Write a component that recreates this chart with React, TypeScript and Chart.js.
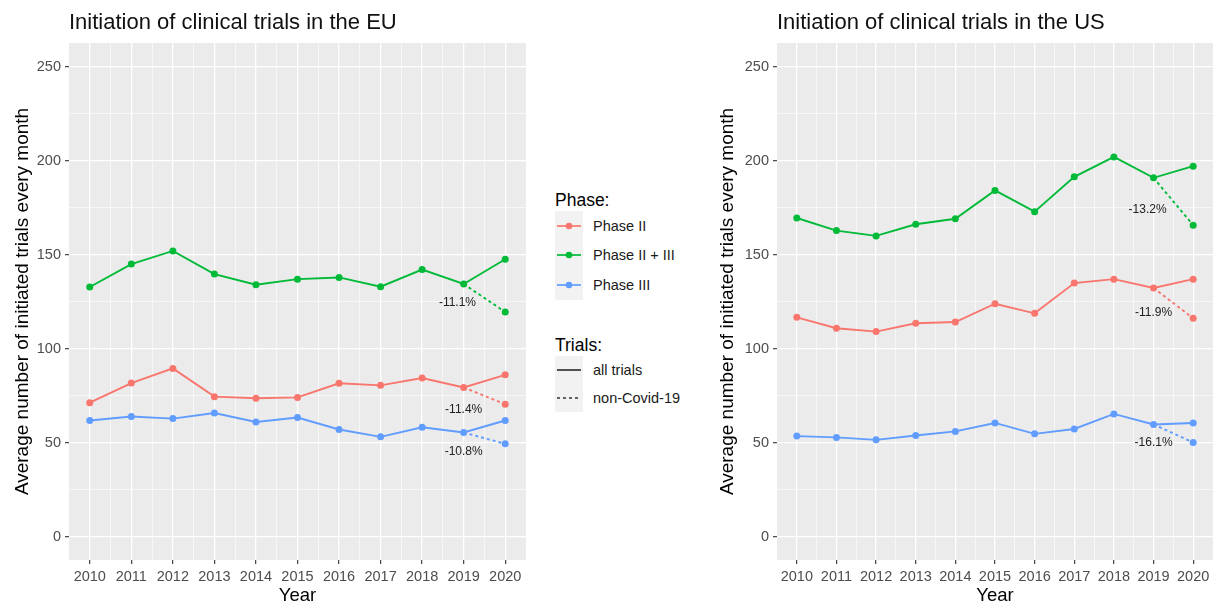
import React, { useEffect, useRef } from "react";
import { Chart, registerables } from "chart.js";

Chart.register(...registerables);

// ---------- data ----------
const years = [2010, 2011, 2012, 2013, 2014, 2015, 2016, 2017, 2018, 2019, 2020];
const seriesNames = ["Phase II", "Phase II + III", "Phase III"];

const euPhase2 = [71.2, 81.6, 89.4, 74.4, 73.5, 74.0, 81.5, 80.4, 84.3, 79.3, 86.0];
const euPhase23 = [132.7, 144.9, 151.9, 139.6, 133.9, 136.9, 137.8, 132.9, 142.0, 134.3, 147.5];
const euPhase3 = [61.7, 63.8, 62.7, 65.7, 60.9, 63.3, 56.9, 53.0, 58.1, 55.3, 61.7];
const euNonCovid2020 = [70.3, 119.4, 49.3];
const euChangeLabels = ["-11.4%", "-11.1%", "-10.8%"];
const euLabelX = [2019.0, 2018.85, 2019.0];
const euLabelY = [67.7, 124.4, 45.0];

const usPhase2 = [116.6, 110.8, 109.0, 113.4, 114.1, 123.8, 118.7, 134.8, 136.9, 132.2, 136.9];
const usPhase23 = [169.4, 162.7, 159.9, 166.1, 169.0, 184.1, 172.8, 191.3, 201.9, 190.8, 197.0];
const usPhase3 = [53.4, 52.7, 51.4, 53.7, 55.9, 60.4, 54.6, 57.2, 65.2, 59.6, 60.4];
const usNonCovid2020 = [116.1, 165.6, 50.0];
const usChangeLabels = ["-11.9%", "-13.2%", "-16.1%"];
const usLabelX = [2019.0, 2018.85, 2019.0];
const usLabelY = [119.2, 174.0, 50.0];

const yMajorTicks = [0, 50, 100, 150, 200, 250];
const yMinorTicks = [25, 75, 125, 175, 225];
const xMinorTicks = [2010.5, 2011.5, 2012.5, 2013.5, 2014.5, 2015.5, 2016.5, 2017.5, 2018.5, 2019.5];

const trialTypes = ["all trials", "non-Covid-19"];

// ---------- styles ----------
const COLORS = ["#F8766D", "#00BA38", "#619CFF"];
const FONT = "'Liberation Sans', Arial, Helvetica, sans-serif";

type PanelProps = {
  title: string;
  series: number[][];
  nonCovid: number[];
  labels: string[];
  labelX: number[];
  labelY: number[];
  width: number;
  axisWidth: number;
  yTitlePad: number;
  padRight: number;
};

function Panel(p: PanelProps) {
  const ref = useRef<HTMLCanvasElement | null>(null);
  useEffect(() => {
    if (!ref.current) return;
    const datasets: any[] = [];
    p.series.forEach((vals, i) => {
      datasets.push({
        label: seriesNames[i] + " non-Covid-19",
        data: [
          { x: years[years.length - 2], y: vals[vals.length - 2] },
          { x: years[years.length - 1], y: p.nonCovid[i] },
        ],
        borderColor: COLORS[i],
        backgroundColor: COLORS[i],
        borderWidth: 1.9,
        borderDash: [3, 3],
        pointRadius: [0, 3.5],
        pointBorderWidth: 0,
        tension: 0,
      });
    });
    p.series.forEach((vals, i) => {
      datasets.push({
        label: seriesNames[i],
        data: years.map((x, j) => ({ x, y: vals[j] })),
        borderColor: COLORS[i],
        backgroundColor: COLORS[i],
        borderWidth: 1.9,
        pointRadius: 3.5,
        pointBorderWidth: 0,
        tension: 0,
      });
    });

    const isInt = (ctx: any) => ctx.tick && Number.isInteger(ctx.tick.value);
    const isMajorY = (ctx: any) => ctx.tick && ctx.tick.value % 50 === 0;

    const bgPlugin = {
      id: "panelBg",
      beforeDraw(chart: any) {
        const { ctx, chartArea } = chart;
        ctx.save();
        ctx.fillStyle = "#EBEBEB";
        ctx.fillRect(chartArea.left, chartArea.top, chartArea.right - chartArea.left, chartArea.bottom - chartArea.top);
        ctx.restore();
      },
      afterDraw(chart: any) {
        const { ctx, chartArea } = chart;
        ctx.save();
        ctx.fillStyle = "#111";
        ctx.font = `22px ${FONT}`;
        ctx.textBaseline = "alphabetic";
        ctx.textAlign = "left";
        ctx.fillText(p.title, chartArea.left, 28.5);
        ctx.restore();
      },
    };
    const labelPlugin = {
      id: "changeLabels",
      afterDatasetsDraw(chart: any) {
        const { ctx, scales } = chart;
        ctx.save();
        ctx.fillStyle = "#222";
        ctx.font = `12px ${FONT}`;
        ctx.textAlign = "center";
        ctx.textBaseline = "middle";
        p.labels.forEach((t, i) => {
          ctx.fillText(t, scales.x.getPixelForValue(p.labelX[i]), scales.y.getPixelForValue(p.labelY[i]));
        });
        ctx.restore();
      },
    };

    const chart = new Chart(ref.current, {
      type: "line",
      data: { datasets },
      plugins: [bgPlugin, labelPlugin],
      options: {
        responsive: false,
        animation: false,
        layout: { padding: { top: 43, right: p.padRight, bottom: 0, left: 0 } },
        plugins: { legend: { display: false }, tooltip: { enabled: false }, title: { display: false } },
        scales: {
          x: {
            type: "linear",
            min: 2009.5,
            max: 2020.5,
            afterBuildTicks: (scale: any) => {
              scale.ticks = [...years, ...xMinorTicks].sort((a, b) => a - b).map((v) => ({ value: v }));
            },
            afterFit: (scale: any) => {
              scale.height = 50;
            },
            ticks: {
              autoSkip: false,
              maxRotation: 0,
              padding: 4,
              color: "#4D4D4D",
              font: { family: FONT, size: 14.5 },
              callback: (v: any) => (Number.isInteger(v) ? String(v) : ""),
            },
            grid: {
              color: "#FFFFFF",
              lineWidth: (ctx: any) => (isInt(ctx) ? 1.3 : 0.6),
              drawTicks: true,
              tickLength: 4,
              tickWidth: 1.2,
              tickColor: (ctx: any) => (isInt(ctx) ? "#444" : "rgba(0,0,0,0)"),
            },
            border: { display: false },
            title: {
              display: true,
              text: "Year",
              color: "#000",
              font: { family: FONT, size: 18.5 },
              padding: { top: 0, bottom: 3 },
            },
          },
          y: {
            type: "linear",
            min: -12.5,
            max: 262.5,
            afterBuildTicks: (scale: any) => {
              scale.ticks = [...yMajorTicks, ...yMinorTicks].sort((a, b) => a - b).map((v) => ({ value: v }));
            },
            afterFit: (scale: any) => {
              scale.width = p.axisWidth;
            },
            ticks: {
              autoSkip: false,
              padding: 4,
              color: "#4D4D4D",
              font: { family: FONT, size: 14.5 },
              callback: (v: any) => (v % 50 === 0 ? String(v) : ""),
            },
            grid: {
              color: "#FFFFFF",
              lineWidth: (ctx: any) => (isMajorY(ctx) ? 1.3 : 0.6),
              drawTicks: true,
              tickLength: 4,
              tickWidth: 1.2,
              tickColor: (ctx: any) => (isMajorY(ctx) ? "#444" : "rgba(0,0,0,0)"),
            },
            border: { display: false },
            title: {
              display: true,
              text: "Average number of initiated trials every month",
              color: "#000",
              font: { family: FONT, size: 19 },
              padding: { top: p.yTitlePad, bottom: 0 },
            },
          },
        },
      } as any,
    });
    return () => chart.destroy();
  }, []);
  return <canvas ref={ref} width={p.width} height={610} style={{ display: "block" }} />;
}

function KeySvg({ color, dashed, point }: { color: string; dashed?: boolean; point?: boolean }) {
  return (
    <svg width={28} height={28} style={{ display: "block", background: "#F2F2F2" }}>
      <line x1={2} y1={14} x2={26} y2={14} stroke={color} strokeWidth={1.7} strokeDasharray={dashed ? "3 3" : undefined} />
      {point ? <circle cx={14} cy={14} r={3.3} fill={color} /> : null}
    </svg>
  );
}

function Legend() {
  const row: React.CSSProperties = { display: "flex", alignItems: "center", height: 29.5 };
  const txt: React.CSSProperties = { marginLeft: 10, fontSize: 14.5, color: "#1a1a1a" };
  const ttl: React.CSSProperties = { fontSize: 17.5, color: "#000", height: 22, lineHeight: "22px" };
  return (
    <div style={{ position: "absolute", left: 555, top: 189, fontFamily: FONT }}>
      <div style={ttl}>Phase:</div>
      <div>
        {seriesNames.map((n, i) => (
          <div key={n} style={row}>
            <div style={{ background: "#F2F2F2", height: 29.5, display: "flex", alignItems: "center" }}>
              <KeySvg color={COLORS[i]} point />
            </div>
            <span style={txt}>{n}</span>
          </div>
        ))}
      </div>
      <div style={{ ...ttl, marginTop: 34 }}>Trials:</div>
      <div>
        {trialTypes.map((n, i) => (
          <div key={n} style={{ ...row, height: 28 }}>
            <div style={{ background: "#F2F2F2", height: 28, display: "flex", alignItems: "center" }}>
              <KeySvg color="#333" dashed={i === 1} />
            </div>
            <span style={txt}>{n}</span>
          </div>
        ))}
      </div>
    </div>
  );
}

export default function App() {
  return (
    <div style={{ position: "fixed", left: 0, top: 0, width: 1219, height: 610, background: "#fff", overflow: "hidden" }}>
      <div style={{ position: "absolute", left: 0, top: 0 }}>
        <Panel
          title="Initiation of clinical trials in the EU"
          series={[euPhase2, euPhase23, euPhase3]}
          nonCovid={euNonCovid2020}
          labels={euChangeLabels}
          labelX={euLabelX}
          labelY={euLabelY}
          width={545}
          axisWidth={69}
          yTitlePad={11}
          padRight={19}
        />
      </div>
      <Legend />
      <div style={{ position: "absolute", left: 700, top: 0 }}>
        <Panel
          title="Initiation of clinical trials in the US"
          series={[usPhase2, usPhase23, usPhase3]}
          nonCovid={usNonCovid2020}
          labels={usChangeLabels}
          labelX={usLabelX}
          labelY={usLabelY}
          width={519}
          axisWidth={77}
          yTitlePad={16}
          padRight={6}
        />
      </div>
    </div>
  );
}
